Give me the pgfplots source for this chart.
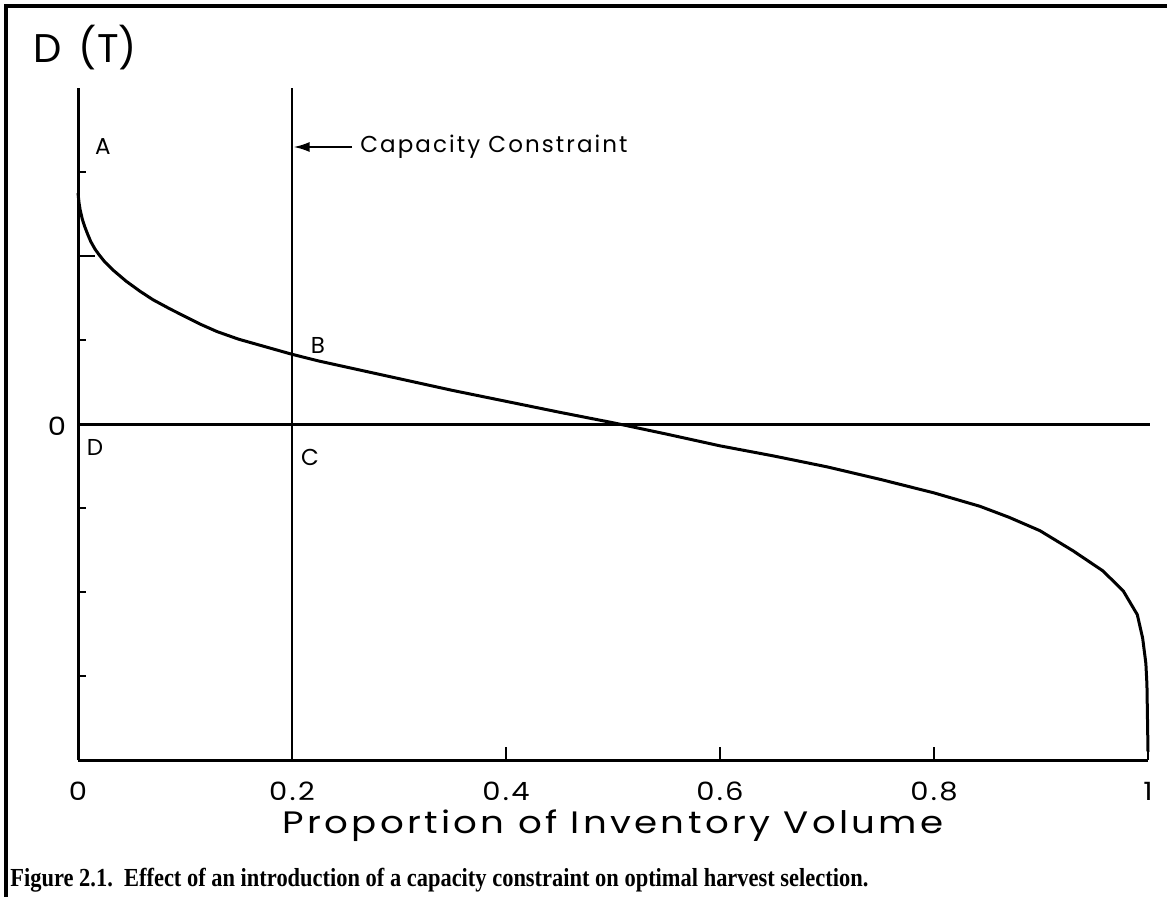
\documentclass[border=0pt]{standalone}
\usepackage{pgfplots}
\pgfplotsset{compat=1.18}
\usepackage{fontspec}
\setmainfont{Poppins}
\newfontfamily\capfont{Liberation Serif}
\usetikzlibrary{arrows.meta}
\newcommand\tl[1]{\scalebox{1.15}[1]{\addfontfeature{LetterSpace=8}#1}}
\begin{document}
\begin{tikzpicture}
\useasboundingbox (-39pt,-68pt) rectangle (544.5pt,380pt);
\draw[line width=2pt] (-36pt,-80pt) -- (-36pt,377pt) -- (560pt,377pt);
\begin{axis}[at={(0,0)}, anchor=south west, scale only axis,
  width=535pt, height=336pt,
  xmin=0, xmax=1, ymin=-4, ymax=4,
  axis x line=bottom, axis y line=left,
  axis line style={line width=1.5pt,-},
  clip=false,
  xtick={0,0.2,0.4,0.6,0.8,1},
  xticklabels={\tl{0},\tl{0.2},\tl{0.4},\tl{0.6},\tl{0.8},\tl{1}},
  ytick=\empty,
  tick align=inside, major tick length=6.5pt,
  every tick/.style={black, line width=1pt},
  xticklabel style={font=\fontsize{12.6}{14}\selectfont, anchor=center, yshift=-15.5pt},
  xlabel={\scalebox{1.2}[1]{\addfontfeature{LetterSpace=9}Proportion of Inventory Volume}},
  xlabel style={font=\fontsize{15.5}{18}\selectfont, at={(axis description cs:0.5,0)}, anchor=center, yshift=-33pt},
]
\addplot[line width=1.5pt, line join=round] coordinates {
(0,2.75) (0.001,2.63) (0.002,2.55) (0.004,2.44) (0.006,2.36) (0.009,2.26)
(0.012,2.17) (0.016,2.08) (0.02,2.01) (0.025,1.93) (0.033,1.83) (0.045,1.70)
(0.058,1.58) (0.07,1.48) (0.086,1.37) (0.1,1.28) (0.114,1.19) (0.13,1.10)
(0.15,1.01) (0.175,0.92) (0.2,0.83) (0.225,0.75) (0.25,0.68) (0.3,0.54)
(0.35,0.40) (0.4,0.27) (0.45,0.14) (0.5,0.015) (0.55,-0.12) (0.6,-0.26)
(0.65,-0.38) (0.7,-0.51) (0.75,-0.66) (0.8,-0.82) (0.843,-0.98) (0.87,-1.11)
(0.899,-1.27) (0.93,-1.51) (0.958,-1.75) (0.977,-1.99) (0.99,-2.27)
(0.995,-2.55) (0.998,-2.85) (0.999,-3.1) (1.0,-3.9)
};
\addplot[line width=1.5pt] coordinates {(0,0) (1.002,0)};
\addplot[line width=1pt] coordinates {(0.2,-4) (0.2,4)};
\draw[line width=1pt] (axis cs:0,3) -- ([xshift=4pt]axis cs:0,3);
\draw[line width=1pt] (axis cs:0,2) -- ([xshift=8.5pt]axis cs:0,2);
\draw[line width=1pt] (axis cs:0,1) -- ([xshift=4pt]axis cs:0,1);
\draw[line width=1pt] (axis cs:0,-1) -- ([xshift=4pt]axis cs:0,-1);
\draw[line width=1pt] (axis cs:0,-2) -- ([xshift=4pt]axis cs:0,-2);
\draw[line width=1pt] (axis cs:0,-3) -- ([xshift=4pt]axis cs:0,-3);
\end{axis}
\node[anchor=west, inner sep=0pt, font=\fontsize{20}{24}\selectfont] at (-22.5pt,356pt) {D\,\ (T)};
\node[font=\fontsize{11.5}{13}\selectfont, inner sep=0pt] at (12.5pt,306.5pt) {A};
\node[font=\fontsize{11.5}{13}\selectfont, inner sep=0pt] at (120pt,207.5pt) {B};
\node[font=\fontsize{11.5}{13}\selectfont, inner sep=0pt] at (8.5pt,156.5pt) {D};
\node[font=\fontsize{11.5}{13}\selectfont, inner sep=0pt] at (116pt,151.5pt) {C};
\node[font=\fontsize{12.6}{14}\selectfont, inner sep=0pt] at (-10.5pt,167pt) {\scalebox{1.15}[1]{0}};
\draw[line width=1pt, -{Latex[length=8pt,width=5pt]}] (137pt,306.5pt) -- (107.8pt,306.5pt);
\node[anchor=west, inner sep=0pt, font=\fontsize{11.5}{13}\selectfont] at (141pt,306.5pt) {\addfontfeature{LetterSpace=9}Capacity Constraint};
\node[anchor=west, inner sep=0pt] at (-34pt,-60pt) {\resizebox{429pt}{\height}{\fontsize{13}{15}\capfont\bfseries Figure 2.1.\ \ Effect of an introduction of a capacity constraint on optimal harvest selection.}};
\end{tikzpicture}
\end{document}
